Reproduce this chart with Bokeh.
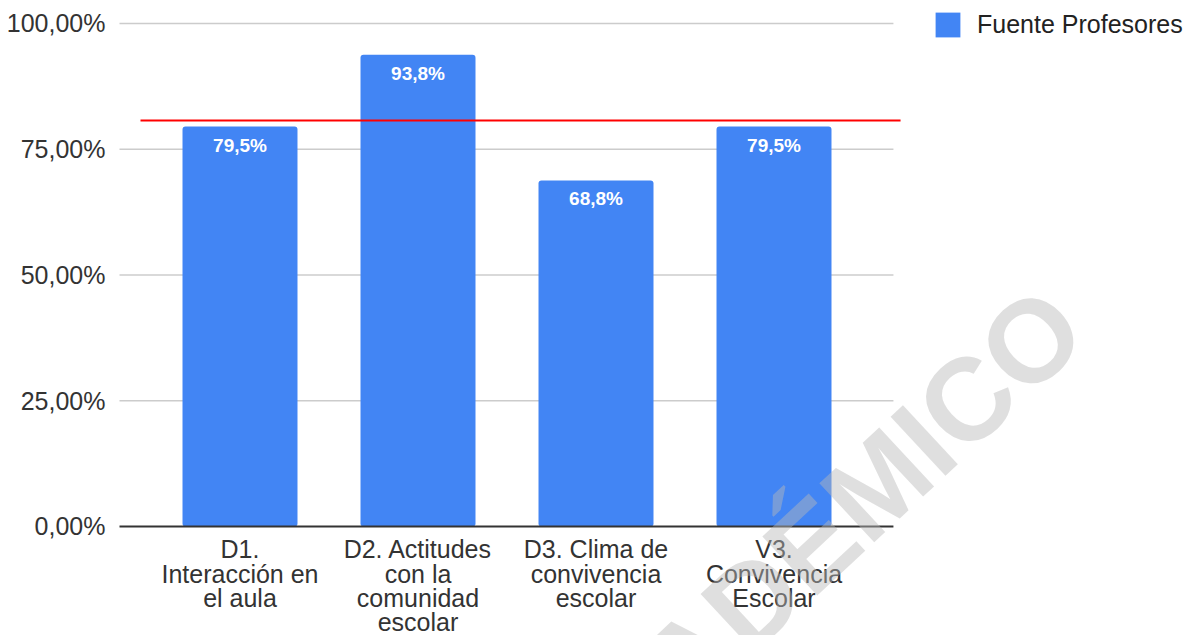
from bokeh.plotting import figure
from bokeh.models import FixedTicker, Legend, LegendItem, Label, Range1d, LinearAxis
from bokeh.core.properties import value
from bokeh.embed import file_html
from bokeh.resources import INLINE

# ---- data ----
categories = [
    "D1.\nInteracción en\nel aula",
    "D2. Actitudes\ncon la\ncomunidad\nescolar",
    "D3. Clima de\nconvivencia\nescolar",
    "V3.\nConvivencia\nEscolar",
]
values = [79.5, 93.8, 68.8, 79.5]
value_labels = ["79,5%", "93,8%", "68,8%", "79,5%"]
series_name = "Fuente Profesores"
y_ticks = [0, 25, 50, 75, 100]
y_tick_labels = ["0,00%", "25,00%", "50,00%", "75,00%", "100,00%"]
reference_value = 80.7   # red reference line
watermark = "ACADÉMICO"

# ---- layout constants ----
FONT = "Liberation Sans"
BLUE = "#4285F4"
xs = list(range(len(categories)))
n = len(categories)
left_pad = 0.677
grid_right = n - 1 + 0.671
ref_right = n - 1 + 0.711
ref_left = -0.559

p = figure(width=1185, height=635, output_backend="svg", toolbar_location=None,
           x_range=Range1d(-1.3455, 5.3118), y_range=Range1d(-21.67, 104.57),
           x_axis_type=None, y_axis_type=None,
           min_border_left=0, min_border_right=0, min_border_top=0, min_border_bottom=0)
p.outline_line_color = None
p.grid.visible = False
p.background_fill_color = "white"
p.border_fill_color = "white"

# axes fixed inside the canvas-wide frame
yaxis = LinearAxis(ticker=FixedTicker(ticks=y_ticks), fixed_location=-left_pad,
                   major_label_overrides=dict(zip(y_ticks, y_tick_labels)))
xaxis = LinearAxis(ticker=FixedTicker(ticks=xs), fixed_location=0,
                   major_label_overrides=dict(zip(xs, categories)))
for ax in (xaxis, yaxis):
    ax.axis_line_color = None
    ax.major_tick_line_color = None
    ax.minor_tick_line_color = None
    ax.major_label_text_font = FONT
    ax.major_label_text_font_size = "25px"
    ax.major_label_text_color = "#333333"
yaxis.major_label_standoff = 8
xaxis.major_label_standoff = 3
xaxis.major_label_text_line_height = 0.862
p.add_layout(yaxis, "left")
p.add_layout(xaxis, "below")

# gridlines
grid_vals = [t for t in y_ticks if t != 0]
p.segment(x0=[-left_pad] * len(grid_vals), x1=[grid_right] * len(grid_vals),
          y0=grid_vals, y1=grid_vals, line_color="#cccccc", line_width=1.5)

bars = p.vbar(x=xs, top=values, width=0.646, fill_color=BLUE, line_color=None,
              border_radius=3)

# baseline
p.segment(x0=[-left_pad], x1=[grid_right], y0=[0], y1=[0], line_color="#333333", line_width=2)

# reference line
p.segment(x0=[ref_left], x1=[ref_right], y0=[reference_value], y1=[reference_value],
          line_color="#ff0000", line_width=2)

p.text(x=xs, y=values, text=value_labels, text_color="white", text_font=value(FONT),
       text_font_style="bold", text_font_size="19px", text_align="center",
       text_baseline="top", y_offset=8)

legend = Legend(items=[LegendItem(label=series_name, renderers=[bars])],
                location=(932, 595), glyph_width=31, glyph_height=31, label_standoff=14,
                padding=0, margin=0, border_line_alpha=0, background_fill_alpha=0,
                label_text_font=FONT, label_text_font_size="25px", label_text_color="#222222")
p.add_layout(legend)

wm = Label(x=3.149, y=-5.77, text=watermark, angle=43, angle_units="deg",
           text_font=FONT, text_font_size="117px", text_font_style="bold",
           text_color="#b8b8b8", text_alpha=0.45, text_align="center", text_baseline="middle")
p.add_layout(wm)

open("out.html", "w").write(file_html(p, INLINE))
